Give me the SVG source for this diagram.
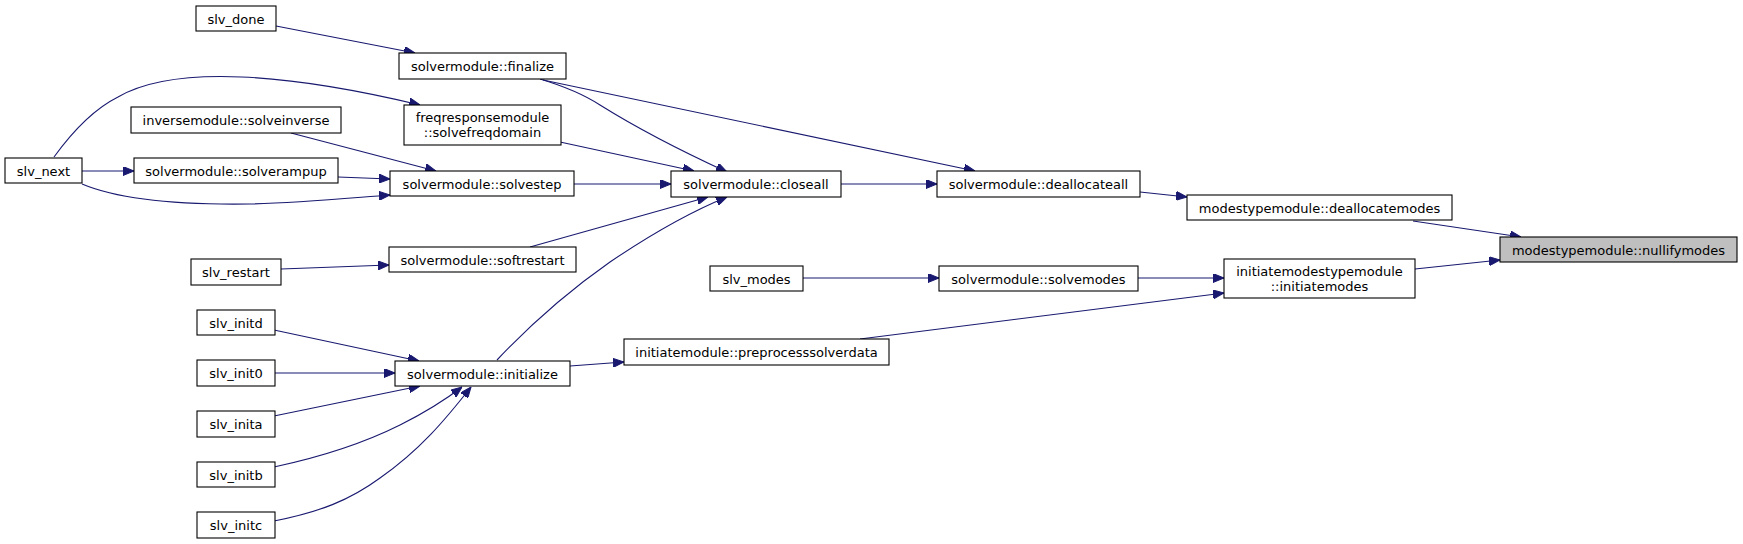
<svg xmlns="http://www.w3.org/2000/svg" width="1743" height="544" viewBox="0 0 1743 544">
<style>
.n rect{fill:#ffffff;stroke:#000000;stroke-width:1.1}
.n.root rect{fill:#bfbfbf}
.n text{font-family:"DejaVu Sans",sans-serif;font-size:13px;fill:#000000;text-anchor:middle}
.e path{fill:none;stroke:#191970;stroke-width:1.1;marker-end:url(#arr)}
</style>
<defs>
<marker id="arr" viewBox="0 0 11 9" refX="11" refY="4.5" markerWidth="11" markerHeight="9" markerUnits="userSpaceOnUse" orient="auto">
<path d="M0,0 L11,4.5 L0,9 z" fill="#191970" stroke="#191970" stroke-width="1"/>
</marker>
</defs>
<rect x="0" y="0" width="1743" height="544" fill="#ffffff"/>
<g id="edges" class="e">
<path d="M276,26 L415,53"/>
<path d="M54,157 C75,128 96,108 118,97 C175,64 290,74 420,105"/>
<path d="M82,171 L134,171"/>
<path d="M82,184 C120,200 180,205 250,204 C300,203 350,198 390,195"/>
<path d="M338,177 L390,179"/>
<path d="M291,133 L436,171"/>
<path d="M540,79 C560,85 580,92 600,105 C640,130 690,155 727,172"/>
<path d="M543,80 L975,171"/>
<path d="M560,142 L694,171"/>
<path d="M574,184 L671,184"/>
<path d="M530,247 L708,197"/>
<path d="M497,360 C530,325 570,290 610,262 C650,235 690,212 727,197"/>
<path d="M281,269 L389,265"/>
<path d="M274,330 L419,361"/>
<path d="M275,373 L395,373"/>
<path d="M274,416 L420,386"/>
<path d="M274,467 C330,455 370,440 400,425 C430,410 445,400 462,387"/>
<path d="M274,521 C320,512 350,500 380,478 C420,450 445,420 471,387"/>
<path d="M570,366 L624,362"/>
<path d="M841,184 L937,184"/>
<path d="M1140,192 L1187,197"/>
<path d="M803,278 L939,278"/>
<path d="M1138,278 L1224,278"/>
<path d="M860,339 L1224,293"/>
<path d="M1413,221 L1521,237"/>
<path d="M1415,269 L1500,260"/>
</g>
<g id="n_slv_done" class="n"><rect x="196" y="6" width="80" height="25"/><text x="236" y="23.5">slv_done</text></g>
<g id="n_finalize" class="n"><rect x="399" y="53" width="167" height="26"/><text x="482.5" y="71">solvermodule::finalize</text></g>
<g id="n_inverse" class="n"><rect x="131" y="107" width="210" height="26"/><text x="236" y="125">inversemodule::solveinverse</text></g>
<g id="n_freq" class="n"><rect x="404" y="105" width="157" height="40"/><text x="482.5" y="122">freqresponsemodule</text><text x="482.5" y="137">::solvefreqdomain</text></g>
<g id="n_slv_next" class="n"><rect x="5" y="158" width="77" height="25"/><text x="43.5" y="175.5">slv_next</text></g>
<g id="n_solverampup" class="n"><rect x="134" y="158" width="204" height="25"/><text x="236" y="175.5">solvermodule::solverampup</text></g>
<g id="n_solvestep" class="n"><rect x="390" y="171" width="184" height="25"/><text x="482" y="188.5">solvermodule::solvestep</text></g>
<g id="n_closeall" class="n"><rect x="671" y="171" width="170" height="26"/><text x="756" y="189">solvermodule::closeall</text></g>
<g id="n_deallocateall" class="n"><rect x="937" y="171" width="203" height="26"/><text x="1038.5" y="189">solvermodule::deallocateall</text></g>
<g id="n_deallocatemodes" class="n"><rect x="1187" y="195" width="265" height="25"/><text x="1319.5" y="212.5">modestypemodule::deallocatemodes</text></g>
<g id="n_nullifymodes" class="n root"><rect x="1500" y="237" width="237" height="25"/><text x="1618.5" y="254.5">modestypemodule::nullifymodes</text></g>
<g id="n_initiatemodes" class="n"><rect x="1224" y="259" width="191" height="39"/><text x="1319.5" y="276">initiatemodestypemodule</text><text x="1319.5" y="290.5">::initiatemodes</text></g>
<g id="n_slv_modes" class="n"><rect x="710" y="266" width="93" height="25"/><text x="756.5" y="283.5">slv_modes</text></g>
<g id="n_solvemodes" class="n"><rect x="939" y="266" width="199" height="25"/><text x="1038.5" y="283.5">solvermodule::solvemodes</text></g>
<g id="n_softrestart" class="n"><rect x="389" y="247" width="187" height="25"/><text x="482.5" y="264.5">solvermodule::softrestart</text></g>
<g id="n_slv_restart" class="n"><rect x="191" y="259" width="90" height="26"/><text x="236" y="277">slv_restart</text></g>
<g id="n_preprocess" class="n"><rect x="624" y="339" width="265" height="26"/><text x="756.5" y="357">initiatemodule::preprocesssolverdata</text></g>
<g id="n_slv_initd" class="n"><rect x="197" y="310" width="78" height="25"/><text x="236" y="327.5">slv_initd</text></g>
<g id="n_slv_init0" class="n"><rect x="197" y="360" width="78" height="26"/><text x="236" y="378">slv_init0</text></g>
<g id="n_initialize" class="n"><rect x="395" y="361" width="175" height="25"/><text x="482.5" y="378.5">solvermodule::initialize</text></g>
<g id="n_slv_inita" class="n"><rect x="197" y="411" width="78" height="26"/><text x="236" y="429">slv_inita</text></g>
<g id="n_slv_initb" class="n"><rect x="197" y="462" width="78" height="25"/><text x="236" y="479.5">slv_initb</text></g>
<g id="n_slv_initc" class="n"><rect x="197" y="512" width="78" height="26"/><text x="236" y="530">slv_initc</text></g>
</svg>
